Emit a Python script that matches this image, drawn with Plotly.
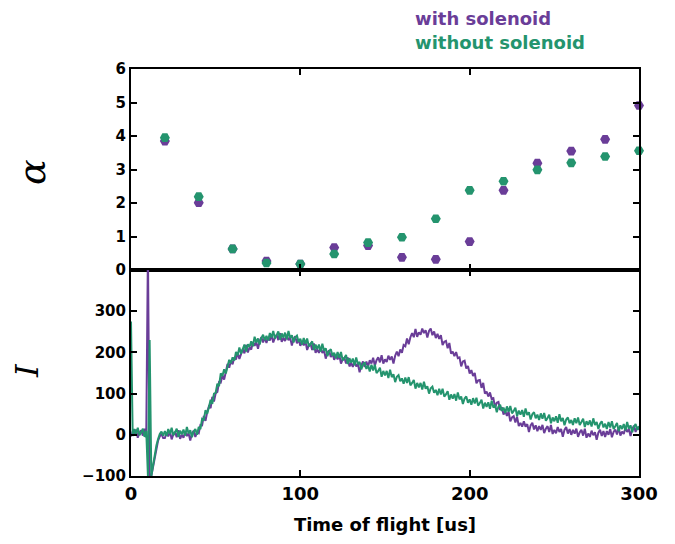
import plotly.graph_objects as go

# ---------------- data ----------------
alpha_t = [20, 40, 60, 80, 100, 120, 140, 160, 180, 200, 220, 240, 260, 280, 300]
alpha_with = [3.85, 2.01, 0.63, 0.27, 0.18, 0.67, 0.73, 0.38, 0.32, 0.85, 2.38, 3.19, 3.55, 3.90, 4.91]
alpha_without = [3.95, 2.19, 0.63, 0.21, 0.18, 0.48, 0.82, 0.98, 1.53, 2.38, 2.65, 2.99, 3.20, 3.39, 3.56]

tof = list(range(0, 301))  # time of flight [us], 1 us steps

signal_with = [
    -4, 9, 0, 13, -7, 5, 11, -2, 15, -6,
    450, -100, -100, -78, -52, -30, -14, -4, 2, -8,
    -8, 5, -4, 9, -11, 1, 7, -6, 11, -10,
    0, -7, 8, -3, 4, -14, 3, 10, -5, 6,
    4, 24, 23, 46, 34, 55, 69, 65, 92, 81,
    101, 104, 128, 127, 144, 134, 158, 172, 163, 180,
    171, 188, 183, 200, 184, 199, 208, 198, 218, 200,
    212, 207, 225, 216, 225, 209, 228, 237, 224, 236,
    223, 237, 229, 243, 224, 236, 243, 230, 247, 226,
    235, 228, 242, 230, 236, 217, 233, 239, 222, 232,
    216, 227, 217, 228, 206, 217, 221, 206, 222, 199,
    207, 199, 212, 199, 205, 185, 200, 205, 189, 198,
    182, 194, 183, 194, 173, 183, 187, 173, 188, 166,
    174, 165, 179, 166, 172, 152, 169, 178, 165, 178,
    166, 181, 173, 187, 168, 181, 188, 176, 193, 173,
    183, 177, 192, 182, 190, 173, 192, 202, 191, 207,
    199, 218, 215, 234, 220, 237, 247, 237, 257, 238,
    249, 243, 258, 247, 254, 236, 252, 258, 242, 251,
    235, 245, 233, 242, 218, 226, 228, 210, 223, 197,
    202, 191, 201, 186, 188, 166, 178, 180, 161, 167,
    149, 157, 143, 150, 125, 132, 133, 114, 126, 100,
    105, 93, 103, 87, 89, 66, 78, 80, 60, 67,
    49, 58, 46, 56, 33, 42, 45, 30, 44, 21,
    29, 20, 33, 20, 26, 7, 23, 29, 13, 23,
    9, 21, 12, 24, 4, 15, 21, 7, 24, 2,
    12, 4, 19, 7, 14, -5, 12, 19, 3, 14,
    0, 12, 3, 15, -5, 6, 12, -2, 15, -7,
    3, -5, 10, -1, 6, -12, 5, 12, -3, 9,
    -5, 9, 0, 14, -6, 7, 13, 1, 18, -2,
    8, 2, 17, 7, 14, -3, 14, 22, 7, 19,
    12,
]

signal_without = [
    275, -3, 14, 2, 17, -1, 6, 15, -5, 10,
    -100, 230, -100, -72, -48, -26, -10, 2, 8, -2,
    9, -3, 14, 2, 17, -1, 6, 15, -5, 10,
    1, 13, -2, 19, 3, 11, -6, 8, 14, 0,
    19, 14, 39, 37, 60, 51, 67, 85, 75, 100,
    102, 124, 118, 149, 143, 159, 149, 170, 182, 174,
    188, 180, 201, 193, 212, 197, 207, 219, 202, 220,
    213, 227, 215, 238, 224, 234, 219, 235, 243, 230,
    240, 229, 247, 236, 252, 234, 242, 251, 231, 246,
    236, 248, 232, 252, 235, 242, 224, 237, 241, 226,
    233, 219, 235, 221, 234, 215, 220, 227, 206, 219,
    208, 219, 202, 221, 204, 210, 191, 203, 208, 192,
    199, 186, 201, 187, 201, 181, 186, 194, 172, 186,
    175, 185, 169, 188, 171, 177, 159, 171, 176, 160,
    168, 154, 170, 156, 170, 150, 155, 163, 141, 155,
    144, 155, 138, 158, 140, 147, 128, 141, 145, 130,
    137, 124, 139, 126, 140, 120, 126, 133, 112, 126,
    115, 126, 110, 129, 112, 118, 100, 113, 117, 102,
    109, 96, 112, 98, 112, 93, 98, 106, 85, 98,
    88, 99, 83, 103, 86, 93, 75, 88, 93, 78,
    86, 73, 89, 76, 90, 71, 77, 85, 64, 78,
    68, 79, 63, 83, 66, 73, 55, 68, 73, 58,
    66, 53, 69, 56, 70, 52, 58, 66, 45, 59,
    49, 60, 44, 64, 48, 55, 37, 50, 55, 40,
    49, 36, 52, 39, 53, 34, 41, 49, 28, 42,
    33, 45, 29, 50, 33, 41, 23, 37, 42, 28,
    36, 24, 40, 28, 42, 24, 31, 39, 19, 33,
    24, 35, 20, 40, 24, 31, 14, 27, 33, 18,
    27, 14, 31, 18, 33, 14, 21, 29, 9, 23,
    14, 26, 11, 31, 15, 23, 6, 20, 26, 12,
    21,
]

x_ticks = [0, 100, 200, 300]
alpha_ticks = [0, 1, 2, 3, 4, 5, 6]
signal_ticks = [-100, 0, 100, 200, 300]

series_names = ["with solenoid", "without solenoid"]
PURPLE = "#6a3d98"
GREEN = "#24946e"

# ---------------- figure ----------------
fig = go.Figure()

fig.add_trace(go.Scatter(x=alpha_t, y=alpha_with, mode="markers", name=series_names[0],
                         marker=dict(symbol="hexagon2", size=10, color=PURPLE),
                         xaxis="x", yaxis="y", cliponaxis=False, showlegend=False))
fig.add_trace(go.Scatter(x=alpha_t, y=alpha_without, mode="markers", name=series_names[1],
                         marker=dict(symbol="hexagon2", size=10, color=GREEN),
                         xaxis="x", yaxis="y", cliponaxis=False, showlegend=False))

fig.add_trace(go.Scatter(x=tof, y=signal_with, mode="lines", name=series_names[0],
                         line=dict(color=PURPLE, width=2),
                         xaxis="x2", yaxis="y2", showlegend=False))
fig.add_trace(go.Scatter(x=tof, y=signal_without, mode="lines", name=series_names[1],
                         line=dict(color=GREEN, width=2),
                         xaxis="x2", yaxis="y2", showlegend=False))

tick_font = dict(family="DejaVu Sans", size=15, color="black", weight="bold")
axis_common = dict(showline=True, linecolor="black", linewidth=2, mirror="allticks",
                   ticks="inside", ticklen=6, tickwidth=1.5, tickcolor="black",
                   showgrid=False, zeroline=False)

split = 0.506
fig.update_layout(
    width=675, height=544,
    paper_bgcolor="white", plot_bgcolor="white",
    margin=dict(l=123, r=44, t=61, b=76),
    xaxis=dict(domain=[0, 1], anchor="y", range=[0, 300], tickvals=x_ticks,
               showticklabels=False, **axis_common),
    yaxis=dict(domain=[split, 1], anchor="x", range=[0, 6], tickvals=alpha_ticks,
               tickfont=tick_font, **axis_common),
    xaxis2=dict(domain=[0, 1], anchor="y2", range=[0, 300], tickvals=x_ticks,
                tickfont=dict(family="DejaVu Sans", size=18, color="black", weight="bold"),
                title=dict(text="Time of flight [us]", standoff=16,
                           font=dict(family="DejaVu Sans", size=18, color="black", weight="bold")),
                matches="x", **axis_common),
    yaxis2=dict(domain=[0, split], anchor="x2", range=[-100, 400], tickvals=signal_ticks,
                tickfont=tick_font, **axis_common),
)

# series labels (legend as coloured text)
fig.add_annotation(text=series_names[0], xref="paper", yref="paper", x=0.555, y=1.125,
                   xanchor="left", yanchor="middle", showarrow=False,
                   font=dict(family="DejaVu Sans", size=18, color=PURPLE, weight="bold"))
fig.add_annotation(text=series_names[1], xref="paper", yref="paper", x=0.555, y=1.064,
                   xanchor="left", yanchor="middle", showarrow=False,
                   font=dict(family="DejaVu Sans", size=18, color=GREEN, weight="bold"))

# y-axis titles
fig.add_annotation(text="α", xref="paper", yref="paper", x=-0.195, y=0.747,
                   xanchor="center", yanchor="middle", showarrow=False, textangle=-90,
                   font=dict(family="DejaVu Serif", size=38, color="black", style="italic"))
fig.add_annotation(text="I", xref="paper", yref="paper", x=-0.205, y=0.26,
                   xanchor="center", yanchor="middle", showarrow=False, textangle=-90,
                   font=dict(family="DejaVu Serif", size=32, color="black", style="italic"))

fig.write_html("out.html")
